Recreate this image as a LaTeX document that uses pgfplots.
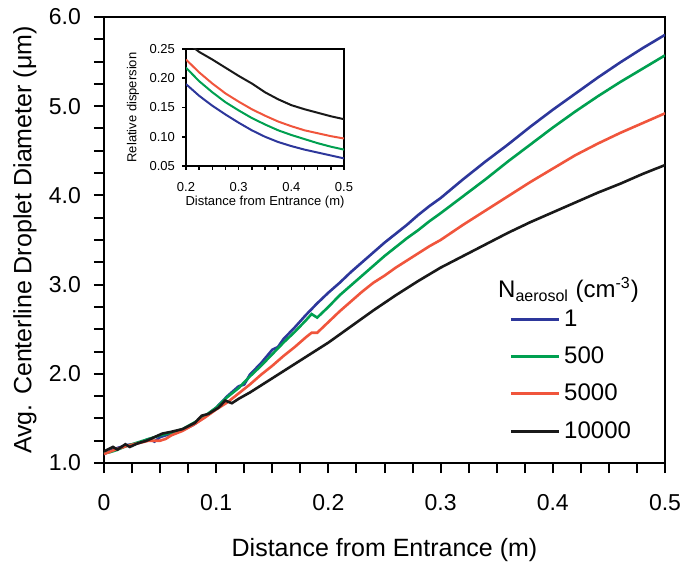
\documentclass[border=0pt]{standalone}
\usepackage{pgfplots}
\pgfplotsset{compat=1.18}
\usepackage{fontspec}
\setmainfont{Liberation Sans}
\definecolor{cblue}{RGB}{45,55,155}
\definecolor{cgreen}{RGB}{0,160,80}
\definecolor{cred}{RGB}{240,85,60}
\definecolor{cblack}{RGB}{25,25,25}
\begin{document}
\begin{tikzpicture}[font=\fontsize{11.5}{13}\selectfont]
\useasboundingbox (-52pt,-49pt) rectangle (295pt,231.5pt);
\begin{axis}[
  scale only axis, width=280.5pt, height=223pt, at={(0,0)}, anchor=south west,
  xmin=0, xmax=0.5, ymin=1, ymax=6,
  xtick={0,0.1,0.2,0.3,0.4,0.5}, ytick={1,2,3,4,5,6},
  minor x tick num=3, minor y tick num=3,
  tick align=outside, xtick pos=bottom, ytick pos=left,
  major tick length=5pt, minor tick length=5pt,
  axis line style={line width=1pt}, tick style={line width=1pt, black},
  /pgf/number format/assume math mode=true,
  xticklabel style={/pgf/number format/.cd, fixed, precision=1, /tikz/.cd, yshift=-7pt},
  yticklabel style={/pgf/number format/.cd, fixed, fixed zerofill, precision=1, /tikz/.cd, xshift=-3pt},
  scaled ticks=false,
  every axis x label/.style={at={(rel axis cs:0.5,0)}, yshift=-43.5pt, anchor=center},
  every axis y label/.style={at={(rel axis cs:0,0.5)}, xshift=-39.5pt, rotate=90, anchor=center},
  xlabel={Distance from Entrance (m)},
  ylabel={Avg. Centerline Droplet Diameter (μm)},
  label style={font=\fontsize{12.5}{14}\selectfont},
  legend style={at={(0.722,0.354)}, anchor=north west, draw=none, fill=none, inner sep=0pt, row sep=4.8pt, font=\fontsize{12}{14}\selectfont},
  legend cell align=left,
  legend image code/.code={\draw[#1, line width=1.4pt] (0pt,0pt) -- (24pt,0pt);},
]
\addplot[cblue, line width=1.3pt] table {
0 1.10
0.01 1.16
0.02 1.20
0.03 1.22
0.04 1.27
0.045 1.24
0.05 1.29
0.06 1.33
0.07 1.37
0.08 1.43
0.09 1.52
0.10 1.62
0.11 1.75
0.12 1.86
0.125 1.88
0.13 1.99
0.14 2.12
0.15 2.27
0.155 2.30
0.16 2.39
0.17 2.52
0.18 2.66
0.19 2.79
0.20 2.91
0.21 3.02
0.22 3.14
0.23 3.25
0.24 3.36
0.25 3.47
0.26 3.57
0.27 3.67
0.28 3.78
0.29 3.88
0.30 3.97
0.32 4.18
0.34 4.38
0.36 4.57
0.38 4.77
0.40 4.96
0.42 5.14
0.44 5.32
0.46 5.49
0.48 5.65
0.50 5.80
};
\addlegendentry{1}
\addplot[cgreen, line width=1.3pt] table {
0 1.11
0.005 1.12
0.01 1.14
0.02 1.19
0.03 1.23
0.04 1.27
0.05 1.31
0.06 1.34
0.07 1.38
0.08 1.45
0.09 1.53
0.10 1.62
0.11 1.74
0.12 1.84
0.13 1.97
0.14 2.09
0.15 2.22
0.16 2.35
0.17 2.47
0.18 2.60
0.185 2.67
0.19 2.63
0.20 2.75
0.21 2.88
0.22 2.99
0.23 3.10
0.24 3.21
0.25 3.32
0.26 3.42
0.27 3.52
0.28 3.61
0.29 3.71
0.30 3.80
0.32 3.99
0.34 4.18
0.36 4.38
0.38 4.57
0.40 4.76
0.42 4.94
0.44 5.11
0.46 5.27
0.48 5.42
0.50 5.57
};
\addlegendentry{500}
\addplot[cred, line width=1.3pt] table {
0 1.10
0.01 1.15
0.02 1.19
0.03 1.22
0.04 1.25
0.05 1.25
0.055 1.27
0.06 1.31
0.07 1.36
0.08 1.43
0.09 1.51
0.10 1.60
0.11 1.68
0.12 1.78
0.13 1.88
0.14 1.99
0.15 2.09
0.16 2.20
0.17 2.30
0.18 2.41
0.185 2.46
0.19 2.46
0.20 2.58
0.21 2.70
0.22 2.81
0.23 2.92
0.24 3.02
0.25 3.10
0.26 3.19
0.27 3.27
0.28 3.35
0.29 3.43
0.30 3.50
0.32 3.67
0.34 3.83
0.36 3.99
0.38 4.15
0.40 4.30
0.42 4.45
0.44 4.58
0.46 4.70
0.48 4.81
0.50 4.92
};
\addlegendentry{5000}
\addplot[cblack, line width=1.3pt] table {
0 1.13
0.008 1.18
0.012 1.15
0.019 1.21
0.023 1.18
0.03 1.22
0.038 1.25
0.045 1.29
0.052 1.33
0.06 1.35
0.07 1.38
0.081 1.45
0.087 1.53
0.093 1.55
0.102 1.62
0.108 1.70
0.114 1.67
0.12 1.72
0.13 1.79
0.14 1.87
0.15 1.95
0.16 2.03
0.17 2.11
0.18 2.19
0.19 2.27
0.20 2.35
0.22 2.53
0.24 2.71
0.26 2.88
0.28 3.04
0.30 3.19
0.32 3.32
0.34 3.45
0.36 3.58
0.38 3.70
0.40 3.81
0.42 3.92
0.44 4.03
0.46 4.13
0.48 4.24
0.50 4.34
};
\addlegendentry{10000}
\node[font=\fontsize{12}{14}\selectfont] at (rel axis cs:0.828,0.388) {N\textsubscript{aerosol} (cm\textsuperscript{-3})};
\end{axis}
\begin{axis}[
  scale only axis, width=79pt, height=58.5pt, at={(41pt,148.5pt)}, anchor=south west,
  xmin=0.2, xmax=0.5, ymin=0.05, ymax=0.25,
  xtick={0.2,0.3,0.4,0.5}, ytick={0.05,0.10,0.15,0.20,0.25},
  minor x tick num=3,
  tick align=outside, xtick pos=bottom, ytick pos=left,
  major tick length=2pt, minor tick length=2pt,
  axis line style={line width=1pt}, tick style={line width=0.8pt, black},
  font=\fontsize{6.5}{8}\selectfont,
  /pgf/number format/assume math mode=true,
  xticklabel style={/pgf/number format/.cd, fixed, fixed zerofill, precision=1, /tikz/.cd, yshift=-2.5pt},
  yticklabel style={/pgf/number format/.cd, fixed, fixed zerofill, precision=2},
  scaled ticks=false,
  every axis x label/.style={at={(rel axis cs:0.5,0)}, yshift=-18pt, anchor=center},
  every axis y label/.style={at={(rel axis cs:0,0.5)}, xshift=-26.5pt, rotate=90, anchor=center},
  xlabel={Distance from Entrance (m)},
  ylabel={Relative dispersion},
]
\addplot[cblue, line width=1pt] table {
0.2 0.190
0.225 0.170
0.25 0.153
0.275 0.138
0.30 0.124
0.325 0.111
0.35 0.100
0.375 0.091
0.40 0.084
0.425 0.078
0.45 0.073
0.475 0.068
0.50 0.063
};
\addplot[cgreen, line width=1pt] table {
0.2 0.218
0.225 0.195
0.25 0.176
0.275 0.159
0.30 0.145
0.325 0.132
0.35 0.121
0.375 0.111
0.40 0.103
0.425 0.096
0.45 0.089
0.475 0.083
0.50 0.078
};
\addplot[cred, line width=1pt] table {
0.2 0.232
0.225 0.210
0.25 0.191
0.275 0.174
0.30 0.160
0.325 0.147
0.35 0.136
0.375 0.126
0.40 0.118
0.425 0.111
0.45 0.106
0.475 0.101
0.50 0.097
};
\addplot[cblack, line width=1pt] table {
0.2 0.265
0.215 0.252
0.225 0.245
0.25 0.232
0.275 0.218
0.30 0.204
0.325 0.191
0.35 0.176
0.375 0.164
0.40 0.154
0.425 0.147
0.45 0.141
0.475 0.135
0.50 0.130
};
\end{axis}
\end{tikzpicture}
\end{document}
